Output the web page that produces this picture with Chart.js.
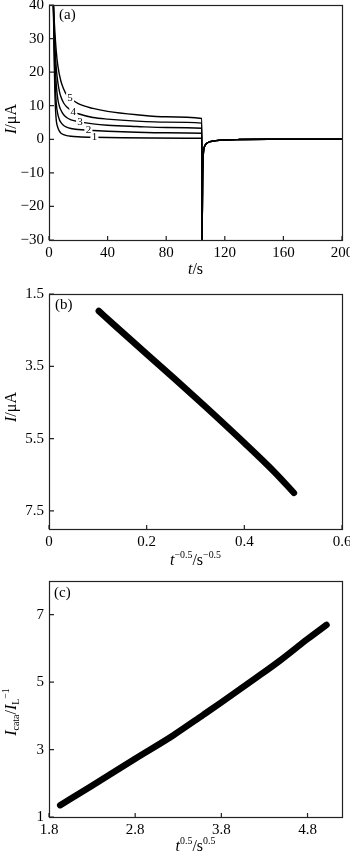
<!DOCTYPE html>
<html>
<head>
<meta charset="utf-8">
<script src="https://cdn.jsdelivr.net/npm/chart.js@4.4.1/dist/chart.umd.min.js"></script>
<style>
body { margin: 0; background: #fff; }
#wrap { position: relative; width: 350px; height: 854px; overflow: hidden; }
canvas { position: absolute; left: 0; }
</style>
</head>
<body>
<div id="wrap">
<canvas id="chartA" width="350" height="285" style="top:0px"></canvas>
<canvas id="chartB" width="350" height="290" style="top:280px"></canvas>
<canvas id="chartC" width="350" height="289" style="top:565px"></canvas>
</div>
<script>
// (a) current vs time, five curves up to the potential step, then a shared tail
var tCurve1 = [3, 3.5, 4, 4.5, 5, 6, 7, 8, 10, 12, 15, 20, 30, 50, 70, 104.3];
var iCurve1 = [40, 25, 14, 8.5, 5.5, 3.5, 2.5, 1.9, 1.4, 1.1, 0.9, 0.75, 0.6, 0.45, 0.4, 0.3];
var tCurve2 = [3, 3.5, 4, 4.5, 5, 6, 7, 8, 10, 12, 15, 20, 27, 40, 60, 80, 104.3];
var iCurve2 = [40, 28, 19, 14, 10.5, 7.5, 6, 5.1, 4.1, 3.6, 3.2, 2.9, 2.7, 2.4, 2.1, 1.95, 1.8];
var tCurve3 = [3, 3.5, 4, 5, 6, 7, 8, 10, 12, 15, 21, 30, 40, 60, 80, 104.3];
var iCurve3 = [40, 31, 24, 16, 12, 10, 8.8, 7.3, 6.5, 5.8, 5.2, 4.6, 4.2, 3.8, 3.5, 3.3];
var tCurve4 = [3, 4, 5, 6, 7, 8, 10, 12, 16.6, 20, 30, 40, 60, 80, 104.3];
var iCurve4 = [40, 28, 21, 17, 14.5, 12.8, 10.8, 9.7, 8.2, 7.6, 6.5, 6.0, 5.4, 5.1, 4.8];
var tCurve5 = [3, 4, 5, 6, 8, 10, 12, 14.4, 20, 30, 40, 60, 80, 104.3];
var iCurve5 = [40, 32, 26, 22, 17.5, 15, 13.3, 12.3, 10.6, 9.2, 8.3, 7.3, 6.7, 6.2];
var tTail = [104.45, 104.9, 105.4, 106, 107, 108, 110, 114, 120, 130, 150, 200];
var iTail = [-30, -10, -4, -2.4, -1.5, -1.1, -0.7, -0.4, -0.2, -0.08, 0, 0];
var curveNames = ['1', '2', '3', '4', '5'];
var curveLabelT = [31, 26.9, 21.2, 16.6, 14.4];
var curveLabelI = [0.6, 2.8, 5.2, 8.2, 12.3];

// (b) I vs t^-0.5
var bX = [0.102, 0.133, 0.2, 0.256, 0.318, 0.4, 0.462, 0.5015];
var bY = [1.97, 2.35, 3.16, 3.83, 4.59, 5.62, 6.43, 7.0];
var bYTicks = [1.5, 3.5, 5.5, 7.5];

// (c) Icata/IL vs t^0.5
var cX = [1.93, 2.28, 2.8, 3.24, 3.59, 3.8, 4.21, 4.48, 4.8, 5.02];
var cY = [1.35, 1.90, 2.73, 3.42, 4.03, 4.40, 5.14, 5.64, 6.28, 6.70];
var cXTicks = [1.8, 2.8, 3.8, 4.8];
var cYTicks = [1, 3, 5, 7];

var FONT = '"Liberation Serif", "Times New Roman", serif';

function toPoints(xs, ys) {
    return xs.map(function(x, i) { return { x: x, y: ys[i] }; });
}

// draws a label made of plain / italic / sup / sub pieces, centred on (x, y)
function drawRich(ctx, parts, x, y, size, vertical) {
    var widths = [];
    var total = 0;
    function fontFor(p) {
        var s = (p.sup || p.sub) ? size * 0.62 : size;
        return (p.italic ? 'italic ' : '') + s + 'px ' + FONT;
    }
    parts.forEach(function(p) {
        ctx.font = fontFor(p);
        var w = ctx.measureText(p.text).width;
        widths.push(w);
        total += w;
    });
    ctx.save();
    ctx.translate(x, y);
    if (vertical) ctx.rotate(-Math.PI / 2);
    ctx.fillStyle = '#000';
    ctx.textBaseline = 'middle';
    ctx.textAlign = 'left';
    var cx = -total / 2;
    parts.forEach(function(p, i) {
        ctx.font = fontFor(p);
        var dy = p.sup ? -size * 0.33 : (p.sub ? size * 0.28 : 0);
        ctx.fillText(p.text, cx, dy);
        cx += widths[i];
    });
    ctx.restore();
}

var framePlugin = {
    id: 'frame',
    afterDraw: function(chart, args, opts) {
        var ctx = chart.ctx;
        var a = chart.chartArea;
        var xs = chart.scales.x;
        var ys = chart.scales.y;
        ctx.save();
        ctx.strokeStyle = '#222';
        ctx.lineWidth = 1.2;
        ctx.strokeRect(a.left + 0.5, a.top + 0.5, a.right - a.left, a.bottom - a.top);
        ctx.beginPath();
        xs.ticks.forEach(function(t) {
            var px = xs.getPixelForValue(t.value);
            ctx.moveTo(px, a.bottom);
            ctx.lineTo(px, a.bottom - 4);
        });
        ys.ticks.forEach(function(t) {
            var py = ys.getPixelForValue(t.value);
            ctx.moveTo(a.left, py);
            ctx.lineTo(a.left + 5, py);
        });
        ctx.stroke();
        drawRich(ctx, opts.xTitle, (a.left + a.right) / 2, a.bottom + opts.xGap, 16, false);
        drawRich(ctx, opts.yTitle, 12, opts.yCenter, 16, true);
        ctx.fillStyle = '#000';
        ctx.font = '15px ' + FONT;
        ctx.textBaseline = 'middle';
        ctx.textAlign = 'left';
        ctx.fillText(opts.tag, a.left + opts.tagDx, a.top + opts.tagDy);
        ctx.restore();
    }
};

var curveLabelPlugin = {
    id: 'curveLabels',
    afterDatasetsDraw: function(chart) {
        var ctx = chart.ctx;
        ctx.save();
        ctx.font = '11px ' + FONT;
        ctx.textAlign = 'center';
        ctx.textBaseline = 'middle';
        curveNames.forEach(function(n, i) {
            var px = chart.scales.x.getPixelForValue(curveLabelT[i]);
            var py = chart.scales.y.getPixelForValue(curveLabelI[i]);
            ctx.fillStyle = '#fff';
            ctx.fillRect(px - 4, py - 5, 8, 10);
            ctx.fillStyle = '#000';
            ctx.fillText(n, px, py);
        });
        ctx.restore();
    }
};

function tickFont() {
    return { family: FONT, size: 15 };
}

function xScale(min, max, height, extra) {
    var s = {
        type: 'linear', min: min, max: max,
        grid: { display: false, drawTicks: false },
        border: { display: false },
        ticks: { color: '#000', font: tickFont(), padding: 4, maxRotation: 0 },
        afterFit: function(sc) {
            sc.height = height;
            sc.paddingLeft = 0;
            sc.paddingRight = 0;
        }
    };
    return Object.assign(s, extra || {});
}

function yScale(min, max, extra) {
    var s = {
        type: 'linear', min: min, max: max,
        grid: { display: false, drawTicks: false },
        border: { display: false },
        ticks: { color: '#000', font: tickFont(), padding: 5 },
        afterFit: function(sc) {
            sc.width = 49;
            sc.paddingTop = 0;
            sc.paddingBottom = 0;
        }
    };
    return Object.assign(s, extra || {});
}

function baseOptions(padTop, scales, frame) {
    return {
        responsive: false,
        animation: false,
        layout: { padding: { top: padTop, right: 8, left: 0, bottom: 0 }, autoPadding: false },
        plugins: { legend: { display: false }, tooltip: { enabled: false }, frame: frame },
        elements: { point: { radius: 0 } },
        scales: scales
    };
}

// chart (a)
var tCurves = [tCurve1, tCurve2, tCurve3, tCurve4, tCurve5];
var iCurves = [iCurve1, iCurve2, iCurve3, iCurve4, iCurve5];
var aSets = tCurves.map(function(ts, k) {
    return {
        data: toPoints(ts.concat(tTail), iCurves[k].concat(iTail)),
        borderColor: '#000',
        borderWidth: 1.4,
        cubicInterpolationMode: 'monotone',
        fill: false
    };
});

new Chart(document.getElementById('chartA'), {
    type: 'line',
    data: { datasets: aSets },
    options: baseOptions(5, {
        x: xScale(0, 200, 45, {}),
        y: yScale(-30, 40, {})
    }, {
        xTitle: [{ text: 't', italic: true }, { text: '/s' }],
        yTitle: [{ text: 'I', italic: true }, { text: '/μA' }],
        xGap: 30, yCenter: 119, tag: '(a)', tagDx: 10, tagDy: 10
    }),
    plugins: [framePlugin, curveLabelPlugin]
});
Chart.getChart('chartA').options.scales.x.ticks.stepSize = 40;
Chart.getChart('chartA').options.scales.y.ticks.stepSize = 10;
Chart.getChart('chartA').options.scales.y.ticks.callback = function(v) {
    return String(v).replace('-', '\u2212');
};
Chart.getChart('chartA').update();

// chart (b)
new Chart(document.getElementById('chartB'), {
    type: 'line',
    data: {
        datasets: [{
            data: toPoints(bX, bY),
            borderColor: '#000',
            borderWidth: 6.5,
            borderCapStyle: 'round',
            borderJoinStyle: 'round',
            cubicInterpolationMode: 'monotone',
            fill: false
        }]
    },
    options: baseOptions(14, {
        x: xScale(0, 0.6, 41, {}),
        y: yScale(1.5, 8, {
            reverse: true,
            afterBuildTicks: function(sc) {
                sc.ticks = bYTicks.map(function(v) { return { value: v }; });
            }
        })
    }, {
        xTitle: [{ text: 't', italic: true }, { text: '\u22120.5', sup: true }, { text: '/s' }, { text: '\u22120.5', sup: true }],
        yTitle: [{ text: 'I', italic: true }, { text: '/μA' }],
        xGap: 32, yCenter: 127, tag: '(b)', tagDx: 6, tagDy: 11
    }),
    plugins: [framePlugin]
});
var chartB = Chart.getChart('chartB');
chartB.options.scales.x.ticks.stepSize = 0.2;
chartB.options.scales.y.ticks.callback = function(v) { return v.toFixed(1); };
chartB.update();

// chart (c)
new Chart(document.getElementById('chartC'), {
    type: 'line',
    data: {
        datasets: [{
            data: toPoints(cX, cY),
            borderColor: '#000',
            borderWidth: 6.5,
            borderCapStyle: 'round',
            borderJoinStyle: 'round',
            cubicInterpolationMode: 'monotone',
            fill: false
        }]
    },
    options: baseOptions(16, {
        x: xScale(1.8, 5.2, 37, {
            afterBuildTicks: function(sc) {
                sc.ticks = cXTicks.map(function(v) { return { value: v }; });
            }
        }),
        y: yScale(1, 8, {
            afterBuildTicks: function(sc) {
                sc.ticks = cYTicks.map(function(v) { return { value: v }; });
            }
        })
    }, {
        xTitle: [{ text: 't', italic: true }, { text: '0.5', sup: true }, { text: '/s' }, { text: '0.5', sup: true }],
        yTitle: [{ text: 'I', italic: true }, { text: 'cata', sub: true }, { text: '/' }, { text: 'I', italic: true }, { text: 'L', sub: true }, { text: '\u22121', sup: true }],
        xGap: 30, yCenter: 147, tag: '(c)', tagDx: 5, tagDy: 12
    }),
    plugins: [framePlugin]
});
var chartC = Chart.getChart('chartC');
chartC.options.scales.x.ticks.callback = function(v) { return v.toFixed(1); };
chartC.update();
</script>
</body>
</html>
